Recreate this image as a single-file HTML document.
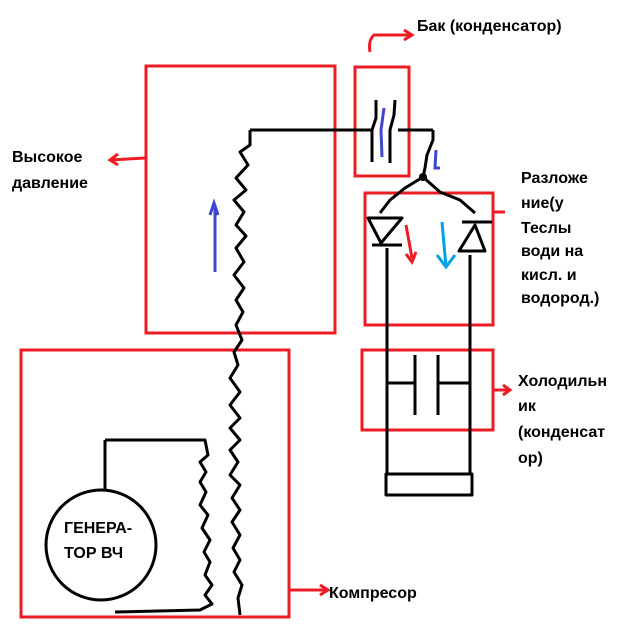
<!DOCTYPE html>
<html><head><meta charset="utf-8"><style>
html,body{margin:0;padding:0;background:#fff}
svg{display:block}
text{font-family:"Liberation Sans",sans-serif;font-size:16px;font-weight:bold;fill:#000}
</style></head><body>
<svg width="636" height="634" viewBox="0 0 636 634" xmlns="http://www.w3.org/2000/svg">
<g fill="none" stroke="#ed1c24" stroke-width="3">
<rect x="146" y="66" width="189" height="267"/>
<rect x="21" y="350" width="268" height="267"/>
<rect x="355" y="67" width="54" height="109"/>
<rect x="365" y="193" width="128" height="132"/>
<rect x="362" y="350" width="131" height="80"/>
<path d="M370 52 Q368 40 374 35 L412 35 M404 30 L412 35 L404 40"/>
<path d="M146 158 L110 160 M118 154 L110 160 L118 165"/>
<path d="M493 212 L505 212"/>
<path d="M493 390 L510 390 M503 385 L510 390 L503 395"/>
<path d="M289 590 L328 590 M320 585 L328 590 L320 595"/>
</g>
<g fill="none" stroke="#000" stroke-width="3" stroke-linejoin="round">
<path d="M250 130 L372 130 M398 130 L433 130"/>
<path d="M250 130 L250 145 L240 152 L248 165 L236 178 L246 190 L234 200 L244 212 L236 225 L246 236 L236 248 L244 262 L234 275 L244 288 L236 300 L243 312 L236 325 L242 340 L234 352 L238 365 L230 378 L240 392 L230 405 L240 418 L230 428 L240 440 L230 450 L238 462 L230 475 L240 485 L232 498 L240 510 L232 522 L240 535 L233 548 L240 560 L234 572 L242 585 L238 598 L240 615"/>
<path d="M105 440 L205 440 L208 455 L200 462 L206 472 L200 482 L206 492 L200 505 L208 515 L202 528 L210 540 L204 552 L210 562 L205 575 L212 585 L205 595 L212 604 L200 610 L115 612"/>
<path d="M105 440 L105 490"/>
<circle cx="101" cy="545" r="55"/>
<path d="M376 100 L376 118 L372 130 L372 162 M395 100 L394 115 L390 130 L390 163"/>
<path d="M433 130 L433 140 L427 155 L425 168 L423 177 L405 188 L390 200 L380 213 M423 177 L440 192 L460 200 L475 213"/>
<path d="M368 218 L402 218 L381 243 Z M372 245 L402 245 M387 248 L387 474"/>
<path d="M462 222 L492 222 M475 225 L459 251 L485 251 Z M470 255 L470 474"/>
<path d="M415 355 L415 415 M438 355 L438 415 M387 383 L415 383 M438 383 L470 383"/>
<rect x="386" y="474" width="86" height="21"/>
</g>
<circle cx="423" cy="177" r="4" fill="#000"/>
<g fill="none" stroke="#3f48cc" stroke-width="3">
<path d="M384 108 L381 130 L382 157"/>
<path d="M215 272 L215 205 M210 215 L214 203 L218 215"/>
<path d="M436 150 L435 168 L440 168"/>
</g>
<path d="M406 225 L412 258 M406 254 L412 262 L416 252" fill="none" stroke="#ed1c24" stroke-width="3"/>
<path d="M442 222 L446 267 M437 255 L446 267 L455 255" fill="none" stroke="#00a2e8" stroke-width="3"/>
<text x="417" y="31">Бак (конденсатор)</text>
<text x="12" y="162">Высокое</text>
<text x="12" y="188">давление</text>
<text x="521" y="183">Разложе</text>
<text x="521" y="208">ние(у</text>
<text x="521" y="233">Теслы</text>
<text x="521" y="256">води на</text>
<text x="521" y="280">кисл. и</text>
<text x="521" y="303">водород.)</text>
<text x="518" y="386">Холодильн</text>
<text x="518" y="411">ик</text>
<text x="518" y="437">(конденсат</text>
<text x="518" y="463">ор)</text>
<text x="329" y="598">Компресор</text>
<text x="64" y="533">ГЕНЕРА-</text>
<text x="64" y="558">ТОР ВЧ</text>
</svg>
</body></html>
